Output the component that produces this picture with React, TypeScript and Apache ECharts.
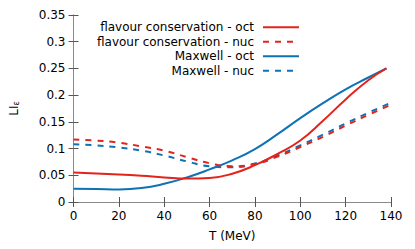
import React, { useEffect, useRef } from "react";
import * as echarts from "echarts";

const xTicks = [0, 20, 40, 60, 80, 100, 120, 140];
const yTicks = [0, 0.05, 0.1, 0.15, 0.2, 0.25, 0.3, 0.35];

const seriesNames = [
  "flavour conservation - oct",
  "flavour conservation - nuc",
  "Maxwell - oct",
  "Maxwell - nuc",
];

const flavourOct: [number, number][] = [
  [0, 0.055], [10, 0.0535], [20, 0.0515], [30, 0.049], [40, 0.046], [50, 0.0438],
  [60, 0.045], [70, 0.053], [80, 0.069], [90, 0.09], [100, 0.115], [110, 0.152],
  [120, 0.192], [130, 0.228], [138, 0.25],
];
const flavourNuc: [number, number][] = [
  [0, 0.117], [10, 0.115], [20, 0.111], [30, 0.104], [40, 0.096], [50, 0.084],
  [60, 0.0725], [70, 0.067], [80, 0.071], [90, 0.085], [100, 0.103], [110, 0.122],
  [120, 0.143], [130, 0.163], [140, 0.182],
];
const maxwellOct: [number, number][] = [
  [0, 0.025], [10, 0.0245], [20, 0.0235], [30, 0.026], [40, 0.034], [50, 0.046],
  [60, 0.061], [70, 0.078], [80, 0.099], [90, 0.127], [100, 0.157], [110, 0.185],
  [120, 0.211], [130, 0.233], [138, 0.25],
];
const maxwellNuc: [number, number][] = [
  [0, 0.108], [10, 0.106], [20, 0.102], [30, 0.096], [40, 0.087], [50, 0.076],
  [60, 0.067], [70, 0.065], [80, 0.072], [90, 0.087], [100, 0.106], [110, 0.126],
  [120, 0.147], [130, 0.167], [140, 0.186],
];

const RED = "#e4231b";
const BLUE = "#0e72b6";
const FONT = "DejaVu Sans";
const FS = 12;

export default function App() {
  const ref = useRef<HTMLDivElement>(null);
  useEffect(() => {
    if (!ref.current) return;
    const chart = echarts.init(ref.current, undefined, { renderer: "svg" });
    const seriesData = [flavourOct, flavourNuc, maxwellOct, maxwellNuc];
    const colors = [RED, RED, BLUE, BLUE];
    const dashed = [false, true, false, true];

    const legendX = 254;
    const legendY0 = 27.3;
    const legendDy = 14.45;
    const graphic: any[] = [];
    seriesNames.forEach((n, i) => {
      const y = legendY0 + i * legendDy;
      graphic.push({
        type: "text",
        x: legendX,
        y,
        style: {
          text: n,
          align: "right",
          verticalAlign: "middle",
          fontFamily: FONT,
          fontSize: FS,
          fill: "#000",
        },
      });
      graphic.push({
        type: "line",
        shape: { x1: 263, y1: y, x2: 299, y2: y },
        style: {
          stroke: colors[i],
          lineWidth: 2,
          lineDash: dashed[i] ? [6, 6] : null,
        },
      });
    });

    const axisCommon = {
      axisLine: { show: true, lineStyle: { color: "#8a8a8a", width: 1 } },
      axisTick: { show: true, inside: true, length: 5, lineStyle: { color: "#555" } },
      splitLine: { show: false },
    };

    chart.setOption({
      animation: false,
      grid: { left: 73.5, right: 24, top: 15, bottom: 47, containLabel: false },
      xAxis: [
        {
          type: "value",
          min: xTicks[0],
          max: xTicks[xTicks.length - 1],
          interval: 20,
          ...axisCommon,
          axisLabel: { color: "#000", fontFamily: FONT, fontSize: FS, margin: 8 },
          name: "T (MeV)",
          nameLocation: "middle",
          nameGap: 28,
          nameTextStyle: { color: "#000", fontFamily: FONT, fontSize: FS },
        },
        {
          type: "value",
          position: "top",
          min: xTicks[0],
          max: xTicks[xTicks.length - 1],
          interval: 20,
          ...axisCommon,
          axisLabel: { show: false },
        },
      ],
      yAxis: [
        {
          type: "value",
          min: yTicks[0],
          max: yTicks[yTicks.length - 1],
          interval: 0.05,
          ...axisCommon,
          axisLabel: { color: "#000", fontFamily: FONT, fontSize: FS, margin: 8 },
          name: "{m|LI}{s|ε}",
          nameLocation: "middle",
          nameGap: 53,
          nameRotate: 90,
          nameTextStyle: {
            color: "#000",
            fontFamily: FONT,
            fontSize: FS,
            rich: {
              m: { fontFamily: FONT, fontSize: FS, color: "#000" },
              s: { fontFamily: FONT, fontSize: 8, color: "#000", padding: [5, 0, 0, 0] },
            },
          },
        },
        {
          type: "value",
          position: "right",
          min: yTicks[0],
          max: yTicks[yTicks.length - 1],
          interval: 0.05,
          ...axisCommon,
          axisLabel: { show: false },
        },
      ],
      series: seriesData.map((d, i) => ({
        type: "line",
        name: seriesNames[i],
        data: d,
        smooth: true,
        showSymbol: false,
        symbol: "none",
        xAxisIndex: 0,
        yAxisIndex: 0,
        clip: true,
        lineStyle: {
          color: colors[i],
          width: 2,
          type: dashed[i] ? [6, 6] : "solid",
        },
        itemStyle: { color: colors[i] },
        z: 2 + (3 - i),
      })),
      graphic,
    });
    return () => chart.dispose();
  }, []);
  return (
    <div
      ref={ref}
      style={{ position: "fixed", left: 0, top: 0, width: 415, height: 249, background: "#fff" }}
    />
  );
}
